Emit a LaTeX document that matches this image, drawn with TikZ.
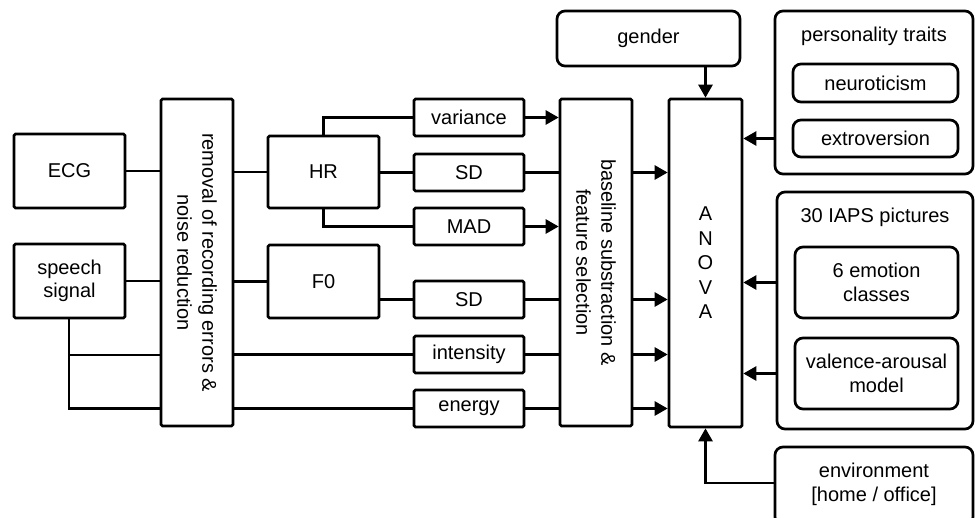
\documentclass[tikz,border=0pt]{standalone}
\usepackage{fontspec}
\setmainfont{Liberation Sans}
\usetikzlibrary{arrows.meta}
\begin{document}
\begin{tikzpicture}[x=1pt,y=-1pt,
  every node/.style={font=\fontsize{20}{23.5}\selectfont, align=center, inner sep=0pt},
  box/.style={draw, line width=2.7pt, rounded corners=1.5pt},
  rbox/.style={draw, line width=2.7pt, rounded corners=8pt},
  ln/.style={line width=2.7pt},
  arr/.style={line width=2.7pt, -{Triangle[length=13pt,width=14pt]}}]
\useasboundingbox (0,0) rectangle (975,517);
% left column
\node[box, minimum width=111, minimum height=74] (ecg) at (69.5,171) {ECG};
\node[box, minimum width=111, minimum height=74] (speech) at (69.5,281) {speech\\signal};
\node[box, minimum width=72, minimum height=327] (rem) at (197,262.5) {};
\node[rotate=-90, font=\fontsize{20}{25}\selectfont] (remlbl) at (rem.center) {removal of recording errors \&\\noise reduction};
% HR / F0
\node[box, minimum width=111, minimum height=72] (hr) at (323.5,172) {HR};
\node[box, minimum width=111, minimum height=73] (f0) at (323.5,281.5) {F0};
% features
\node[box, minimum width=110, minimum height=37] (var) at (469,117.5) {variance};
\node[box, minimum width=110, minimum height=37] (sd1) at (469,172.5) {SD};
\node[box, minimum width=110, minimum height=37] (mad) at (469,226.5) {MAD};
\node[box, minimum width=110, minimum height=37] (sd2) at (469,299.5) {SD};
\node[box, minimum width=110, minimum height=37] (int) at (469,354.5) {intensity};
\node[box, minimum width=110, minimum height=37] (en) at (469,408.5) {energy};
% baseline
\node[box, minimum width=72, minimum height=327] (base) at (596,262.5) {};
\node[rotate=-90, font=\fontsize{20}{25}\selectfont] (baselbl) at (base.center) {baseline substraction \&\\feature selection};
% ANOVA
\node[box, minimum width=73, minimum height=328] (anova) at (705.5,263) {};
\node[font=\fontsize{20}{24.5}\selectfont] (anovalbl) at (anova.center) {A\\N\\O\\V\\A};
% right side
\node[rbox, minimum width=183, minimum height=55] (gender) at (648.5,38.5) {gender};
\node[rbox, minimum width=198, minimum height=163] (pers) at (874,92.5) {};
\node (perslbl) at (874,36) {personality traits};
\node[rbox, minimum width=165, minimum height=38] (neuro) at (875.5,83) {neuroticism};
\node[rbox, minimum width=165, minimum height=37] (extro) at (875.5,138.5) {extroversion};
\node[rbox, minimum width=196, minimum height=237] (iaps) at (875,310.5) {};
\node (iapslbl) at (875,217) {30 IAPS pictures};
\node[rbox, minimum width=163, minimum height=71] (emo) at (876.5,282.5) {6 emotion\\classes};
\node[rbox, minimum width=163, minimum height=71] (val) at (876.5,373.5) {valence-arousal\\model};
\node[rbox, minimum width=198, minimum height=78] (env) at (874,486) {};
\node (envlbl) at (874,484.5) {environment\\{}[home / office]};
% coordinates
\coordinate (sp) at (69,355);
\coordinate (sp2) at (69,408.5);
% connectors left
\draw[ln] (ecg.east |- 0,171) -- (rem.west |- 0,171);
\draw[ln] (speech.east |- 0,281) -- (rem.west |- 0,281);
\draw[ln] (speech.south -| sp) -- (sp2) -- (rem.west |- sp2);
\draw[ln] (sp) -- (rem.west |- sp);
\draw[ln] (rem.east |- hr) -- (hr.west);
\draw[ln] (rem.east |- 0,281.5) -- (f0.west);
\draw[ln] (rem.east |- int) -- (int.west);
\draw[ln] (rem.east |- en) -- (en.west);
% HR / F0 to features
\draw[ln] (hr.north) |- (var.west);
\draw[ln] (hr.east |- sd1) -- (sd1.west);
\draw[ln] (hr.south) |- (mad.west);
\draw[ln] (f0.east |- sd2) -- (sd2.west);
% features to baseline
\draw[arr] (var.east) -- (base.west |- var);
\draw[ln] (sd1.east) -- (base.west |- sd1);
\draw[arr] (mad.east) -- (base.west |- mad);
\draw[ln] (sd2.east) -- (base.west |- sd2);
\draw[ln] (int.east) -- (base.west |- int);
\draw[ln] (en.east) -- (base.west |- en);
% baseline to anova
\draw[arr] (base.east |- 0,172.5) -- (anova.west |- 0,172.5);
\draw[arr] (base.east |- 0,299.5) -- (anova.west |- 0,299.5);
\draw[arr] (base.east |- 0,354.5) -- (anova.west |- 0,354.5);
\draw[arr] (base.east |- 0,408.5) -- (anova.west |- 0,408.5);
% right inputs
\draw[arr] (gender.south -| anova.north) -- (anova.north);
\draw[arr] (pers.west |- 0,138.5) -- (anova.east |- 0,138.5);
\draw[arr] (iaps.west |- emo) -- (anova.east |- emo);
\draw[arr] (iaps.west |- val) -- (anova.east |- val);
\draw[arr] (env.west |- 0,483) -| (anova.south);
\end{tikzpicture}
\end{document}
